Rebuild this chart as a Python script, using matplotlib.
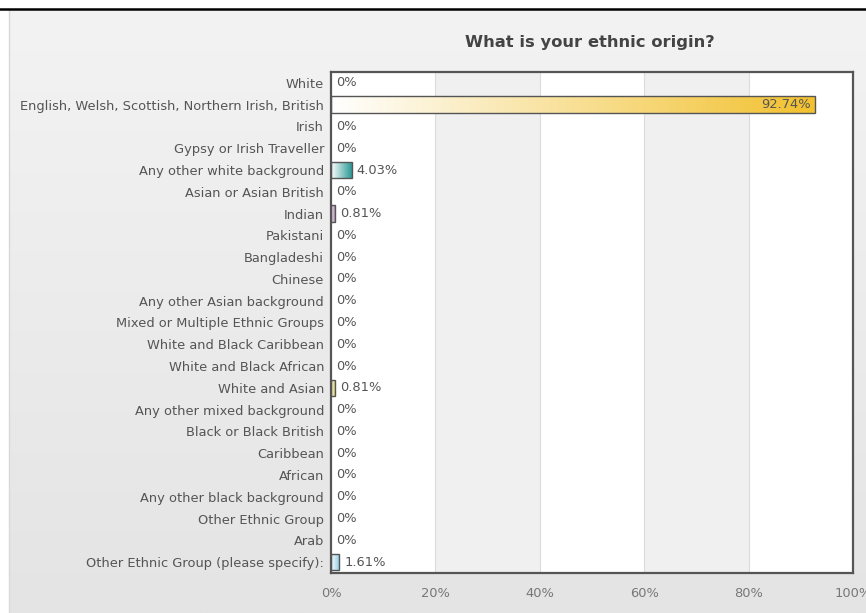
import numpy as np
import matplotlib
matplotlib.use("Agg")
import matplotlib.pyplot as plt
from matplotlib.colors import LinearSegmentedColormap
from matplotlib.lines import Line2D
from matplotlib.patches import Rectangle

categories = [
    "White",
    "English, Welsh, Scottish, Northern Irish, British",
    "Irish",
    "Gypsy or Irish Traveller",
    "Any other white background",
    "Asian or Asian British",
    "Indian",
    "Pakistani",
    "Bangladeshi",
    "Chinese",
    "Any other Asian background",
    "Mixed or Multiple Ethnic Groups",
    "White and Black Caribbean",
    "White and Black African",
    "White and Asian",
    "Any other mixed background",
    "Black or Black British",
    "Caribbean",
    "African",
    "Any other black background",
    "Other Ethnic Group",
    "Arab",
    "Other Ethnic Group (please specify):",
]
values = [0, 92.74, 0, 0, 4.03, 0, 0.81, 0, 0, 0, 0, 0, 0, 0, 0.81, 0, 0, 0, 0, 0, 0, 0, 1.61]
value_labels = ["0%", "92.74%", "0%", "0%", "4.03%", "0%", "0.81%", "0%", "0%", "0%", "0%", "0%",
                "0%", "0%", "0.81%", "0%", "0%", "0%", "0%", "0%", "0%", "0%", "1.61%"]
bar_colors = {1: "#f2c12e", 4: "#1f9490", 6: "#9a6a9a", 14: "#c9c23a", 22: "#8cc8e6"}
x_ticks = [0, 20, 40, 60, 80, 100]
x_tick_labels = ["0%", "20%", "40%", "60%", "80%", "100%"]
title = "What is your ethnic origin?"

W, H = 866, 613
fig = plt.figure(figsize=(W / 100, H / 100), dpi=100)
fig.patch.set_facecolor("white")

# background panel with vertical gradient
bg = fig.add_axes([0, 0, 1, 1], zorder=-10)
bg.set_axis_off()
grad = np.linspace(0, 1, 256).reshape(-1, 1)
bgcmap = LinearSegmentedColormap.from_list("bg", ["#f3f3f3", "#e4e4e4"])
px0, py1 = 9 / W, 1 - 10 / H
bg.imshow(grad, aspect="auto", cmap=bgcmap, extent=[px0, 1, 0, py1], origin="upper")
bg.set_xlim(0, 1)
bg.set_ylim(0, 1)
bg.add_line(Line2D([px0, px0], [0, py1], color="#d8d8d8", lw=1))
bg.add_line(Line2D([0, 1], [1 - 9 / H, 1 - 9 / H], color="black", lw=1.8))

left, right, top, bottom = 331 / W, 853 / W, 1 - 72 / H, 1 - 573 / H
ax = fig.add_axes([left, bottom, right - left, top - bottom])
ax.set_facecolor("white")
ax.set_xlim(0, 100)
n = len(categories)
ax.set_ylim(n - 0.5, -0.5)

# alternating bands
for i in range(len(x_ticks) - 1):
    if i % 2 == 1:
        ax.axvspan(x_ticks[i], x_ticks[i + 1], color="#f0f0f0", zorder=0, lw=0)
for xt in x_ticks[1:-1]:
    ax.axvline(xt, color="#dcdcdc", lw=0.8, zorder=0.5)

fs = 9.4
bh = 0.76
ypos = np.arange(n)
for i, (v, lab) in enumerate(zip(values, value_labels)):
    if v > 0:
        col = bar_colors.get(i, "#888888")
        rect = Rectangle((0, i - bh / 2), v, bh, facecolor="none", edgecolor="#555555", lw=1.0, zorder=3)
        ax.add_patch(rect)
        cmap = LinearSegmentedColormap.from_list("g%d" % i, ["#ffffff", col])
        g = np.linspace(0, 1, 256).reshape(1, -1)
        im = ax.imshow(g, aspect="auto", cmap=cmap, extent=[0, v, i + bh / 2, i - bh / 2],
                       zorder=2, interpolation="bilinear")
        clip = Rectangle((0, i - bh / 2), v, bh, transform=ax.transData)
        im.set_clip_path(clip)
    if v > 50:
        ax.text(v - 0.8, i, lab, ha="right", va="center", fontsize=fs, color="#555555", zorder=4)
    else:
        ax.text(v + 0.9, i, lab, ha="left", va="center", fontsize=fs, color="#555555", zorder=4)

ax.set_xlim(0, 100)
ax.set_ylim(n - 0.5, -0.5)
ax.set_yticks(ypos)
ax.set_yticklabels(categories, fontsize=fs, color="#555555")
ax.set_xticks(x_ticks)
ax.set_xticklabels(x_tick_labels, fontsize=fs, color="#777777")
ax.tick_params(axis="both", length=0)
ax.tick_params(axis="y", pad=5)
ax.tick_params(axis="x", pad=10)
for s in ax.spines.values():
    s.set_color("#555555")
    s.set_linewidth(1.6)

fig.text(590 / W, 1 - 42 / H, title, ha="center", va="center", fontsize=11.8,
         fontweight="bold", color="#444444")

fig.savefig("out.png", dpi=100)
